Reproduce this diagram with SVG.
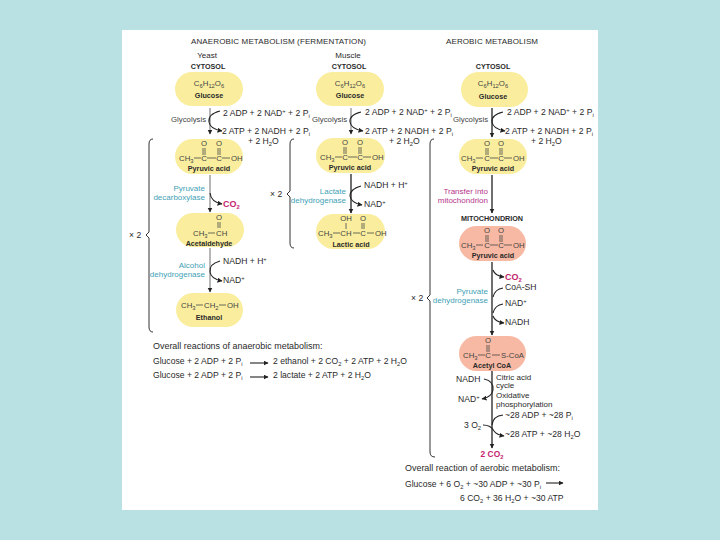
<svg xmlns="http://www.w3.org/2000/svg" width="720" height="540" viewBox="0 0 720 540">
<style>
text{font-family:"Liberation Sans",Arial,sans-serif;fill:#2a2a2a;font-size:8.6px}
.s{font-size:5.8px;baseline-shift:-2px}
.u{font-size:5.8px;baseline-shift:3px}
.h{font-size:8px}
.b{font-weight:bold;font-size:7.2px}
.f{font-size:8px}
.n{font-size:7.8px;fill:#444}
.c{text-anchor:middle}
.e{text-anchor:end}
.t{fill:#3f9fb5;font-size:8px;text-anchor:end}
.m{fill:#b5368c;font-size:8px;text-anchor:end}
.r{fill:#c41e6e;font-weight:bold;font-size:9px}
.o{font-size:8.95px}
.y{fill:#faee9e}
.p{fill:#f7b9a3}
.bd{stroke:#444;stroke-width:.8;fill:none}
.k{fill:none;stroke:#222;stroke-width:1.1}
.g{fill:none;stroke:#999;stroke-width:1.4}
.d{fill:none;stroke:#222;stroke-width:1.3}
.br{fill:none;stroke:#333;stroke-width:1}
</style>
<defs>
<marker id="a" markerWidth="6" markerHeight="6" refX="4.5" refY="2.5" orient="auto" markerUnits="userSpaceOnUse"><path d="M0 0L5 2.5L0 5z" fill="#222"/></marker>
</defs>
<rect width="720" height="540" fill="#b9e0e3"/>
<rect x="122" y="30" width="476" height="480" fill="#fff"/>

<text class="h" x="191" y="44" textLength="175">ANAEROBIC METABOLISM (FERMENTATION)</text>
<text class="h" x="446" y="44" textLength="92">AEROBIC METABOLISM</text>
<text class="f c" x="207" y="58">Yeast</text>
<text class="f c" x="348" y="58">Muscle</text>
<text class="b c" x="208" y="69">CYTOSOL</text>
<text class="b c" x="349" y="69">CYTOSOL</text>
<text class="b c" x="493" y="69">CYTOSOL</text>
<text class="b c" x="492" y="221">MITOCHONDRION</text>

<g id="connectors">
<path class="g" d="M210 108V134" marker-end="url(#a)"/>
<path class="k" d="M220 111Q208 114 209 122Q210 129 222 131" marker-end="url(#a)"/>
<path class="g" d="M351 108V134" marker-end="url(#a)"/>
<path class="k" d="M361 112Q349 115 350 122Q351 129 363 131" marker-end="url(#a)"/>
<path class="d" d="M492 108V137" marker-end="url(#a)"/>
<path class="k" d="M503 112Q491 115 492 122Q493 129 505 131" marker-end="url(#a)"/>
<path class="g" d="M210 175V212" marker-end="url(#a)"/>
<path class="k" d="M210 193Q211 202 222 204" marker-end="url(#a)"/>
<path class="d" d="M351 174V213" marker-end="url(#a)"/>
<path class="k" d="M361 186Q350 189 350 196Q351 203 362 205" marker-end="url(#a)"/>
<path class="g" d="M210 248V292" marker-end="url(#a)"/>
<path class="k" d="M220 261Q209 264 210 272Q211 279 222 281" marker-end="url(#a)"/>
<path class="d" d="M492 175V213" marker-end="url(#a)"/>
<path class="d" d="M492 262V335" marker-end="url(#a)"/>
<path class="k" d="M493 270Q495 276 504 277" marker-end="url(#a)"/>
<path class="k" d="M503 288Q495 289 493 297"/>
<path class="k" d="M503 304Q495 305 493 313"/>
<path class="k" d="M493 316Q495 322 504 323" marker-end="url(#a)"/>
<path class="d" d="M492 371V448" marker-end="url(#a)"/>
<path class="k" d="M484 379Q494 381 493 390Q492 397 482 399" marker-end="url(#a)"/>
<path class="k" d="M503 415Q493 416 492 425"/>
<path class="k" d="M483 425Q491 425 494 431Q497 435 504 436" marker-end="url(#a)"/>
<path class="k" d="M250 363H268" marker-end="url(#a)" stroke-width=".9"/>
<path class="k" d="M250 377H268" marker-end="url(#a)"/>
<path class="k" d="M546 483H563" marker-end="url(#a)" stroke-width=".9"/>
<path class="br" d="M153 139Q149 139 149 144V232L146 235L149 238V327Q149 332 153 332"/>
<path class="br" d="M294 139Q290 139 290 144V191L287 194L290 197V243Q290 248 294 248"/>
<path class="br" d="M434 139Q430 139 430 144V295L427 298L430 301V452Q430 457 435 457"/>
</g>

<g id="glucose-yeast"><rect class="y" x="175" y="72" width="68" height="34" rx="17"/>
<text class="n c" x="209" y="86">C<tspan class="s">6</tspan>H<tspan class="s">12</tspan>O<tspan class="s">6</tspan></text>
<text class="b c" x="209" y="98">Glucose</text></g>
<g id="glucose-muscle"><rect class="y" x="316" y="72" width="68" height="34" rx="17"/>
<text class="n c" x="350" y="86">C<tspan class="s">6</tspan>H<tspan class="s">12</tspan>O<tspan class="s">6</tspan></text>
<text class="b c" x="350" y="98">Glucose</text></g>
<g id="glucose-aerobic"><rect class="y" x="461" y="72" width="67" height="35" rx="17.5"/>
<text class="n c" x="493" y="86">C<tspan class="s">6</tspan>H<tspan class="s">12</tspan>O<tspan class="s">6</tspan></text>
<text class="b c" x="493" y="99">Glucose</text></g>

<g id="pyruvic-yeast" transform="translate(175 139)"><rect class="y" width="68" height="35" rx="17.5"/>
<text class="n c" x="29" y="7">O</text><text class="n c" x="44" y="7">O</text>
<path class="bd" d="M28 9V16M30 9V16M43 9V16M45 9V16M19 19H26M32 19H41M47 19H55"/>
<text class="n" x="4" y="22">CH<tspan class="s">3</tspan></text><text class="n c" x="29" y="22">C</text><text class="n c" x="44" y="22">C</text><text class="n" x="56" y="22">OH</text>
<text class="b c" x="34" y="32">Pyruvic acid</text></g>
<g id="pyruvic-muscle" transform="translate(316 138)"><rect class="y" width="69" height="35" rx="17.5"/>
<text class="n c" x="29" y="7">O</text><text class="n c" x="44" y="7">O</text>
<path class="bd" d="M28 9V16M30 9V16M43 9V16M45 9V16M19 19H26M32 19H41M47 19H55"/>
<text class="n" x="4" y="22">CH<tspan class="s">3</tspan></text><text class="n c" x="29" y="22">C</text><text class="n c" x="44" y="22">C</text><text class="n" x="56" y="22">OH</text>
<text class="b c" x="34" y="32">Pyruvic acid</text></g>
<g id="pyruvic-aerobic" transform="translate(459 139)"><rect class="y" width="68" height="35" rx="17.5"/>
<text class="n c" x="28" y="7">O</text><text class="n c" x="42" y="7">O</text>
<path class="bd" d="M27 9V16M29 9V16M41 9V16M43 9V16M17 19H24M31 19H39M45 19H53"/>
<text class="n" x="2" y="22">CH<tspan class="s">3</tspan></text><text class="n c" x="28" y="22">C</text><text class="n c" x="42" y="22">C</text><text class="n" x="54" y="22">OH</text>
<text class="b c" x="34" y="32">Pyruvic acid</text></g>
<g id="pyruvic-mito" transform="translate(459 226)"><rect class="p" width="67" height="35" rx="17.5"/>
<text class="n c" x="28" y="7">O</text><text class="n c" x="42" y="7">O</text>
<path class="bd" d="M27 9V16M29 9V16M41 9V16M43 9V16M17 19H24M31 19H39M45 19H53"/>
<text class="n" x="2" y="22">CH<tspan class="s">3</tspan></text><text class="n c" x="28" y="22">C</text><text class="n c" x="42" y="22">C</text><text class="n" x="54" y="22">OH</text>
<text class="b c" x="34" y="32">Pyruvic acid</text></g>

<g id="acetaldehyde"><rect class="y" x="176" y="213" width="68" height="34" rx="17"/>
<text class="n c" x="219" y="220">O</text>
<path class="bd" d="M218 222V228M220 222V228M208 233H215"/>
<text class="n" x="193" y="236">CH<tspan class="s">3</tspan></text><text class="n" x="216" y="236">CH</text>
<text class="b c" x="209" y="246">Acetaldehyde</text></g>
<g id="lactic"><rect class="y" x="316" y="214" width="69" height="35" rx="17.5"/>
<text class="n c" x="346" y="221">OH</text><text class="n c" x="363" y="221">O</text>
<path class="bd" d="M346 223V229M362 223V229M364 223V229M333 233H340M353 233H360M367 233H374"/>
<text class="n" x="318" y="236">CH<tspan class="s">3</tspan></text><text class="n c" x="346" y="236">CH</text><text class="n c" x="363" y="236">C</text><text class="n" x="375" y="236">OH</text>
<text class="b c" x="351" y="247">Lactic acid</text></g>
<g id="ethanol"><rect class="y" x="176" y="293" width="67" height="34" rx="17"/>
<path class="bd" d="M196 305H203M219 305H226"/>
<text class="n" x="181" y="308">CH<tspan class="s">3</tspan></text><text class="n" x="204" y="308">CH<tspan class="s">2</tspan></text><text class="n" x="227" y="308">OH</text>
<text class="b c" x="209" y="320">Ethanol</text></g>
<g id="acetyl-coa"><rect class="p" x="459" y="336" width="67" height="35" rx="17.5"/>
<text class="n c" x="488" y="343">O</text>
<path class="bd" d="M487 345V352M489 345V352M478 355H485M492 355H500"/>
<text class="n" x="463" y="358">CH<tspan class="s">3</tspan></text><text class="n c" x="488" y="358">C</text><text class="n" x="501" y="358">S-CoA</text>
<text class="b c" x="492" y="368">Acetyl CoA</text></g>

<text class="n" x="171" y="122">Glycolysis</text>
<text class="n" x="312" y="122">Glycolysis</text>
<text class="n" x="453" y="122">Glycolysis</text>
<text x="223" y="116">2 ADP + 2 NAD<tspan class="u">+</tspan> + 2 P<tspan class="s">i</tspan></text>
<text x="222" y="134">2 ATP + 2 NADH + 2 P<tspan class="s">i</tspan></text>
<text x="248" y="144">+ 2 H<tspan class="s">2</tspan>O</text>
<text x="365" y="115">2 ADP + 2 NAD<tspan class="u">+</tspan> + 2 P<tspan class="s">i</tspan></text>
<text x="365" y="134">2 ATP + 2 NADH + 2 P<tspan class="s">i</tspan></text>
<text x="389" y="144">+ 2 H<tspan class="s">2</tspan>O</text>
<text x="507" y="115">2 ADP + 2 NAD<tspan class="u">+</tspan> + 2 P<tspan class="s">i</tspan></text>
<text x="505" y="134">2 ATP + 2 NADH + 2 P<tspan class="s">i</tspan></text>
<text x="531" y="144">+ 2 H<tspan class="s">2</tspan>O</text>

<text class="t" x="205" y="191">Pyruvate</text><text class="t" x="205" y="200">decarboxylase</text>
<text class="r" x="223" y="207">CO<tspan class="s">2</tspan></text>
<text class="t" x="346" y="194">Lactate</text><text class="t" x="346" y="203">dehydrogenase</text>
<text x="364" y="188">NADH + H<tspan class="u">+</tspan></text><text x="364" y="207">NAD<tspan class="u">+</tspan></text>
<text class="t" x="205" y="268">Alcohol</text><text class="t" x="205" y="277">dehydrogenase</text>
<text x="223" y="264">NADH + H<tspan class="u">+</tspan></text><text x="223" y="283">NAD<tspan class="u">+</tspan></text>
<text class="m" x="488" y="194">Transfer into</text><text class="m" x="488" y="203">mitochondrion</text>
<text class="t" x="488" y="294">Pyruvate</text><text class="t" x="488" y="303">dehydrogenase</text>
<text class="r" x="505" y="280">CO<tspan class="s">2</tspan></text>
<text x="505" y="290">CoA-SH</text>
<text x="505" y="306">NAD<tspan class="u">+</tspan></text>
<text x="505" y="325">NADH</text>
<text x="456" y="382">NADH</text><text x="458" y="402">NAD<tspan class="u">+</tspan></text>
<text class="f" x="496" y="380">Citric acid</text><text class="f" x="496" y="388">cycle</text>
<text class="f" x="496" y="398">Oxidative</text><text class="f" x="496" y="406.500">phosphorylation</text>
<text x="505" y="418">~28 ADP + ~28 P<tspan class="s">i</tspan></text>
<text x="464" y="428">3 O<tspan class="s">2</tspan></text>
<text x="505" y="437">~28 ATP + ~28 H<tspan class="s">2</tspan>O</text>
<text class="r c" x="492" y="457" style="font-size:8.4px">2 CO<tspan class="s">2</tspan></text>

<text x="129" y="238">× 2</text>
<text x="270" y="197">× 2</text>
<text x="411" y="301">× 2</text>

<text class="o" x="153" y="349">Overall reactions of anaerobic metabolism:</text>
<text x="153" y="364">Glucose + 2 ADP + 2 P<tspan class="s">i</tspan></text>
<text x="273" y="364">2 ethanol + 2 CO<tspan class="s">2</tspan> + 2 ATP + 2 H<tspan class="s">2</tspan>O</text>
<text x="153" y="378">Glucose + 2 ADP + 2 P<tspan class="s">i</tspan></text>
<text x="273" y="378">2 lactate + 2 ATP + 2 H<tspan class="s">2</tspan>O</text>
<text class="o" x="405" y="471">Overall reaction of aerobic metabolism:</text>
<text x="405" y="487">Glucose + 6 O<tspan class="s">2</tspan> + ~30 ADP + ~30 P<tspan class="s">i</tspan></text>
<text x="460" y="501">6 CO<tspan class="s">2</tspan> + 36 H<tspan class="s">2</tspan>O + ~30 ATP</text>
</svg>
